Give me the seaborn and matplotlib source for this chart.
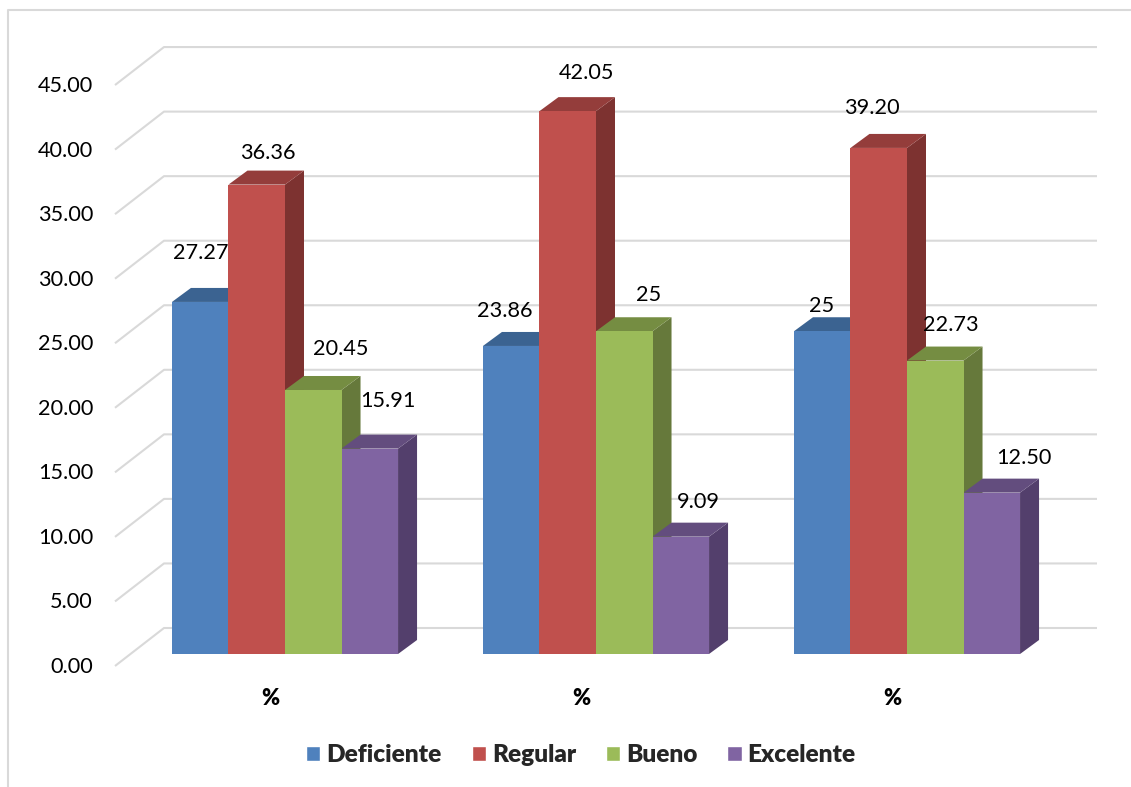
import matplotlib
matplotlib.use("Agg")
import matplotlib.pyplot as plt
import matplotlib.transforms as mtrans
from matplotlib.lines import Line2D
import pandas as pd
import seaborn as sns

# Chart data
groups = ["A", "B", "C"]
group_labels = ["%", "%", "%"]
deficiente = [27.27, 23.86, 25.00]
regular = [36.36, 42.05, 39.20]
bueno = [20.45, 25.00, 22.73]
excelente = [15.91, 9.09, 12.50]
value_labels = [
    ["27.27", "23.86", "25"],
    ["36.36", "42.05", "39.20"],
    ["20.45", "25", "22.73"],
    ["15.91", "9.09", "12.50"],
]
y_ticks = [0, 5, 10, 15, 20, 25, 30, 35, 40, 45]
series_names = ["Deficiente", "Regular", "Bueno", "Excelente"]

# Label offsets from the top-centre of each bar, in pixels
label_offsets = [
    [(1, 50), (-6, 36), (-1, 26)],
    [(11, 33), (19, 39), (-7, 41)],
    [(27, 42), (24, 37), (16, 37)],
    [(18, 49), (18, 36), (32, 36)],
]

front_colors = ["#4F81BD", "#C0504D", "#9BBB59", "#8064A2"]
top_colors = ["#3B6391", "#943D3B", "#758D42", "#634D7E"]
side_colors = ["#365A85", "#7D3230", "#66793B", "#533F6C"]

sns.set_theme(style="white")
plt.rcParams["font.family"] = ["Lato", "DejaVu Sans"]

W, H = 1131, 787
fig = plt.figure(figsize=(W / 100, H / 100), dpi=100)
ax = fig.add_axes([115 / W, 1 - 654 / H, (1097 - 115) / W, (654 - 30) / H])

df = pd.DataFrame({
    "group": groups * 4,
    "series": [s for s in series_names for _ in groups],
    "value": deficiente + regular + bueno + excelente,
})
sns.barplot(data=df, x="group", y="value", hue="series", order=groups,
            hue_order=series_names, palette=front_colors, width=0.727,
            saturation=1, ax=ax)

# scales: 311 px per group, 12.91 px per y unit
px_x = 1 / 311
px_y = 1 / 12.91
ax.set_xlim(-170 * px_x, 812 * px_x)
ax.set_ylim(0, 624 * px_y)
ax.set_xlabel("")
ax.set_ylabel("")
sns.despine(ax=ax, left=True, bottom=True, right=True, top=True)

# gridlines with the wall going back
grid_color = "#D9D9D9"
x_left, x_right = ax.get_xlim()
for tick in y_ticks:
    ax.plot([x_left, x_left + 49 * px_x, x_right],
            [tick - 12 * px_y, tick + 26 * px_y, tick + 26 * px_y],
            color=grid_color, lw=1.5, clip_on=False, zorder=1,
            solid_capstyle="butt")

# 3D sides and tops
depth_x = 19 * px_x
depth_y = 14 * px_y
for s, container in enumerate(ax.containers):
    for g, bar in enumerate(container):
        x0 = bar.get_x()
        x1 = x0 + bar.get_width()
        h = bar.get_height()
        bar.set_zorder(5)
        bar.set_linewidth(0)
        ax.fill([x1, x1 + depth_x, x1 + depth_x, x1],
                [0, depth_y, h + depth_y, h],
                color=side_colors[s], lw=0, zorder=3, clip_on=False)
        ax.fill([x0, x1, x1 + depth_x, x0 + depth_x],
                [h, h, h + depth_y, h + depth_y],
                color=top_colors[s], lw=0, zorder=4, clip_on=False)
        dx, dy = label_offsets[s][g]
        ax.annotate(value_labels[s][g], xy=((x0 + x1) / 2, h),
                    xytext=(dx * 0.72, (dy - 1) * 0.72), textcoords="offset points",
                    ha="center", va="center", fontsize=15.6, color="black",
                    zorder=6, annotation_clip=False)

# tick labels sit on the front edge of the wall
ax.set_yticks(y_ticks)
ax.set_yticklabels([f"{t:.2f}" for t in y_ticks], fontsize=15.6, color="black")
ax.set_xticks(range(len(groups)))
ax.set_xticklabels(group_labels, fontsize=15.6, fontweight="heavy", color="black")
ax.tick_params(axis="y", length=0, pad=15.8)
ax.tick_params(axis="x", length=0, pad=24.5)
y_shift = mtrans.ScaledTranslation(0, -11 / 100, fig.dpi_scale_trans)
x_shift = mtrans.ScaledTranslation(-15 / 100, 0, fig.dpi_scale_trans)
for lab in ax.get_yticklabels():
    lab.set_transform(lab.get_transform() + y_shift)
for lab in ax.get_xticklabels():
    lab.set_transform(lab.get_transform() + x_shift)

sns.move_legend(ax, "center", bbox_to_anchor=((581 - 115) / (1097 - 115), (654 - 755) / 624),
                ncol=4, title=None, frameon=False, handlelength=0.58, handleheight=0.58,
                handletextpad=0.25, columnspacing=1.22,
                prop={"weight": "heavy", "size": 17.6})

# chart frame, only left and top show up
fig.add_artist(Line2D([8 / W, 8 / W, 1], [0, 1 - 10 / H, 1 - 10 / H],
                      color=grid_color, lw=1.5))

fig.savefig("out.png", dpi=100)
